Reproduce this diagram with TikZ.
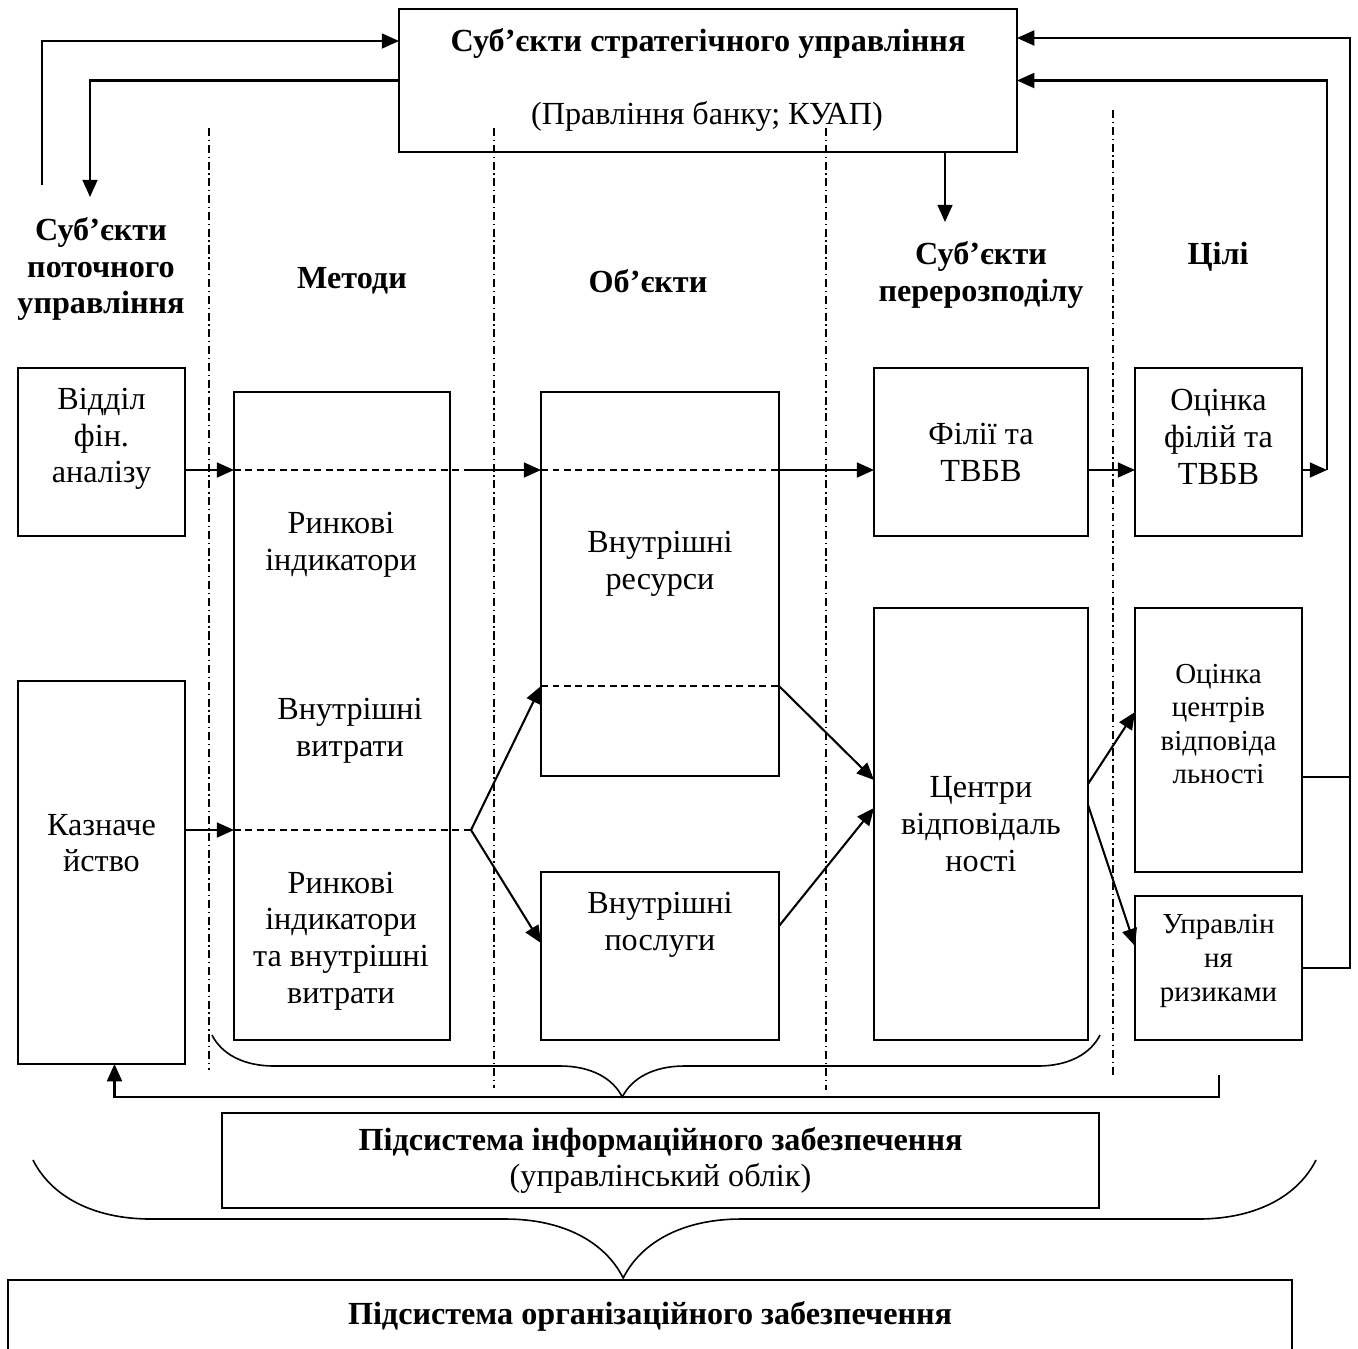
\documentclass[tikz,border=0pt]{standalone}
\usepackage{fontspec}
\setmainfont{Liberation Serif}
\usetikzlibrary{arrows.meta, calc, decorations.pathreplacing}
\newcommand{\pxu}{0.435pt}

\begin{document}
\begin{tikzpicture}[
        x=\pxu, y=-\pxu,
        blok/.style={
            draw,
            line width=0.9pt,
            inner sep=0pt,
            outer sep=0pt,
            align=center,
            font=\fontsize{14pt}{16pt}\selectfont
        },
        napys/.style={align=center, inner sep=0pt, font=\fontsize{14pt}{16pt}\selectfont},
        dribno/.style={align=center, inner sep=0pt, font=\fontsize{12.6pt}{14.6pt}\selectfont},
        holova/.style={align=center, inner sep=0pt, font=\bfseries\fontsize{14pt}{16pt}\selectfont},
        strilka/.style={-{Triangle[length=7.5pt, width=6.5pt]}, line width=0.9pt},
        punktyr/.style={line width=0.6pt, dash pattern=on 3pt off 2pt},
        mezha/.style={line width=0.6pt, dash pattern=on 3.5pt off 1.6pt on 0.6pt off 1.6pt},
        duzhka/.style={decorate, line width=0.7pt}
    ]
        \useasboundingbox (0,0) rectangle (1358,1348);

        % column borders
        \draw[mezha] (209,128) -- (209,1070);
        \draw[mezha] (494,128) -- (494,1088);
        \draw[mezha] (826,128) -- (826,1090);
        \draw[mezha] (1113,110) -- (1113,1075);

        % strategic level
        \node[blok, minimum width=618*\pxu, minimum height=143*\pxu] (top) at (708,80.5) {};
        \node[holova] (toptxt) at (708,43) {Суб’єкти стратегічного управління};
        \node[napys] (topsub) at (707,116) {(Правління банку; КУАП)};

        % column headings
        \node[holova] (hpot) at (101,269) {Суб’єкти\\поточного\\управління};
        \node[holova] (hmet) at (352,281) {Методи};
        \node[holova] (hobj) at (648,281) {Об’єкти};
        \node[holova] (hper) at (981,275) {Суб’єкти\\перерозподілу};
        \node[holova] (hcil) at (1218,257) {Цілі};

        % boxes
        \node[blok, minimum width=167*\pxu, minimum height=168*\pxu] (vid) at (101.5,452) {};
        \node[napys] (vidtxt) at (101.5,439) {Відділ\\фін.\\аналізу};
        \node[blok, minimum width=167*\pxu, minimum height=383*\pxu] (kaz) at (101.5,872.5) {};
        \node[napys] (kaztxt) at (101.5,843) {Казначе\\йство};

        \node[blok, minimum width=216*\pxu, minimum height=648*\pxu] (meth) at (342,716) {};
        \node[napys] (meth1) at (341,545) {Ринкові\\індикатори};
        \node[napys] (meth2) at (350,731) {Внутрішні\\витрати};
        \node[napys] (meth3) at (341,941) {Ринкові\\індикатори\\та внутрішні\\витрати};

        \node[blok, minimum width=238*\pxu, minimum height=384*\pxu] (res) at (660,584) {};
        \node[napys] (restxt) at (660,564) {Внутрішні\\ресурси};
        \node[blok, minimum width=238*\pxu, minimum height=168*\pxu] (posl) at (660,956) {};
        \node[napys] (posltxt) at (660,925) {Внутрішні\\послуги};

        \node[blok, minimum width=214*\pxu, minimum height=168*\pxu] (fil) at (981,452) {Філії та\\ТВБВ};
        \node[blok, minimum width=214*\pxu, minimum height=432*\pxu] (centr) at (981,824) {Центри\\відповідаль\\ності};

        \node[blok, minimum width=167*\pxu, minimum height=168*\pxu] (ocf) at (1218.5,452) {};
        \node[napys] (ocftxt) at (1218.5,437) {Оцінка\\філій та\\ТВБВ};
        \node[blok, minimum width=167*\pxu, minimum height=264*\pxu] (occ) at (1218.5,740) {};
        \node[dribno] (occtxt) at (1218.5,724) {Оцінка\\центрів\\відповіда\\льності};
        \node[blok, minimum width=167*\pxu, minimum height=144*\pxu] (risk) at (1218.5,968) {};
        \node[dribno] (risktxt) at (1218.5,961) {Управлін\\ня\\ризиками};

        % subsystems
        \node[blok, minimum width=877*\pxu, minimum height=95*\pxu] (info) at (660.5,1160.5)
            {\textbf{Підсистема інформаційного забезпечення}\\(управлінський облік)};
        \node[blok, minimum width=1284*\pxu, minimum height=80*\pxu] (org) at (650,1320) {};
        \node[holova] (orgtxt) at (650,1316) {Підсистема організаційного забезпечення};

        % helper points
        \coordinate (row1) at (0,470);
        \coordinate (row2) at (0,830);
        \coordinate (rdash) at (0,686);
        \coordinate (j1) at (471,470);
        \coordinate (j2) at (471,830);
        \coordinate (lup) at (42,185);
        \coordinate (ldn) at (90,197);
        \coordinate (pdn) at (945,222);
        \coordinate (ocfr) at (1327,470);
        \coordinate (fbb) at (1219,1075);

        % links to the strategic level
        \draw[strilka] (lup) |- ([yshift=-32*\pxu]top.north west);
        \draw[strilka] (top.west) -| (ldn);
        \draw[strilka] (top.south -| pdn) -- (pdn);
        \draw[strilka] (risk.east) -- ++(48,0) |- ([yshift=-29*\pxu]top.north east);
        \draw[line width=0.9pt] ([yshift=-37*\pxu]occ.east) -- ++(48,0);
        \draw[strilka] (ocf.east |- row1) -- (ocfr);
        \draw[strilka] (ocfr) |- (top.east);

        % upper flow
        \draw[strilka] (vid.east |- row1) -- (meth.west |- row1);
        \draw[punktyr] (meth.west |- row1) -- (j1);
        \draw[strilka] (j1) -- (res.west |- row1);
        \draw[punktyr] (res.west |- row1) -- (res.east |- row1);
        \draw[strilka] (res.east |- row1) -- (fil.west |- row1);
        \draw[strilka] (fil.east |- row1) -- (ocf.west |- row1);

        % lower flow
        \draw[strilka] (kaz.east |- row2) -- (meth.west |- row2);
        \draw[punktyr] (meth.west |- row2) -- (j2);
        \draw[strilka] (j2) -- (res.west |- rdash);
        \draw[strilka] (j2) -- ([yshift=13*\pxu]posl.west);
        \draw[punktyr] (res.west |- rdash) -- (res.east |- rdash);
        \draw[strilka] (res.east |- rdash) -- ([yshift=44*\pxu]centr.west);
        \draw[strilka] ([yshift=30*\pxu]posl.east) -- ([yshift=16*\pxu]centr.west);
        \draw[strilka] ([yshift=40*\pxu]centr.east) -- ([yshift=28*\pxu]occ.west);
        \draw[strilka] ([yshift=19*\pxu]centr.east) -- ([yshift=22*\pxu]risk.west);

        % feedback to treasury
        \draw[strilka] (fbb) -- ++(0,22) -| ([xshift=13*\pxu]kaz.south);

        % braces
        \coordinate (b1l) at (212,1035);
        \coordinate (b1r) at (1100,1035);
        \coordinate (b2l) at (33,1160);
        \coordinate (b2r) at (1316,1160);
        \draw[duzhka, decoration={brace, mirror, amplitude=62*\pxu, aspect=0.462}] (b1l) -- (b1r);
        \draw[duzhka, decoration={brace, mirror, amplitude=118*\pxu, aspect=0.460}] (b2l) -- (b2r);
    \end{tikzpicture}
\end{document}
